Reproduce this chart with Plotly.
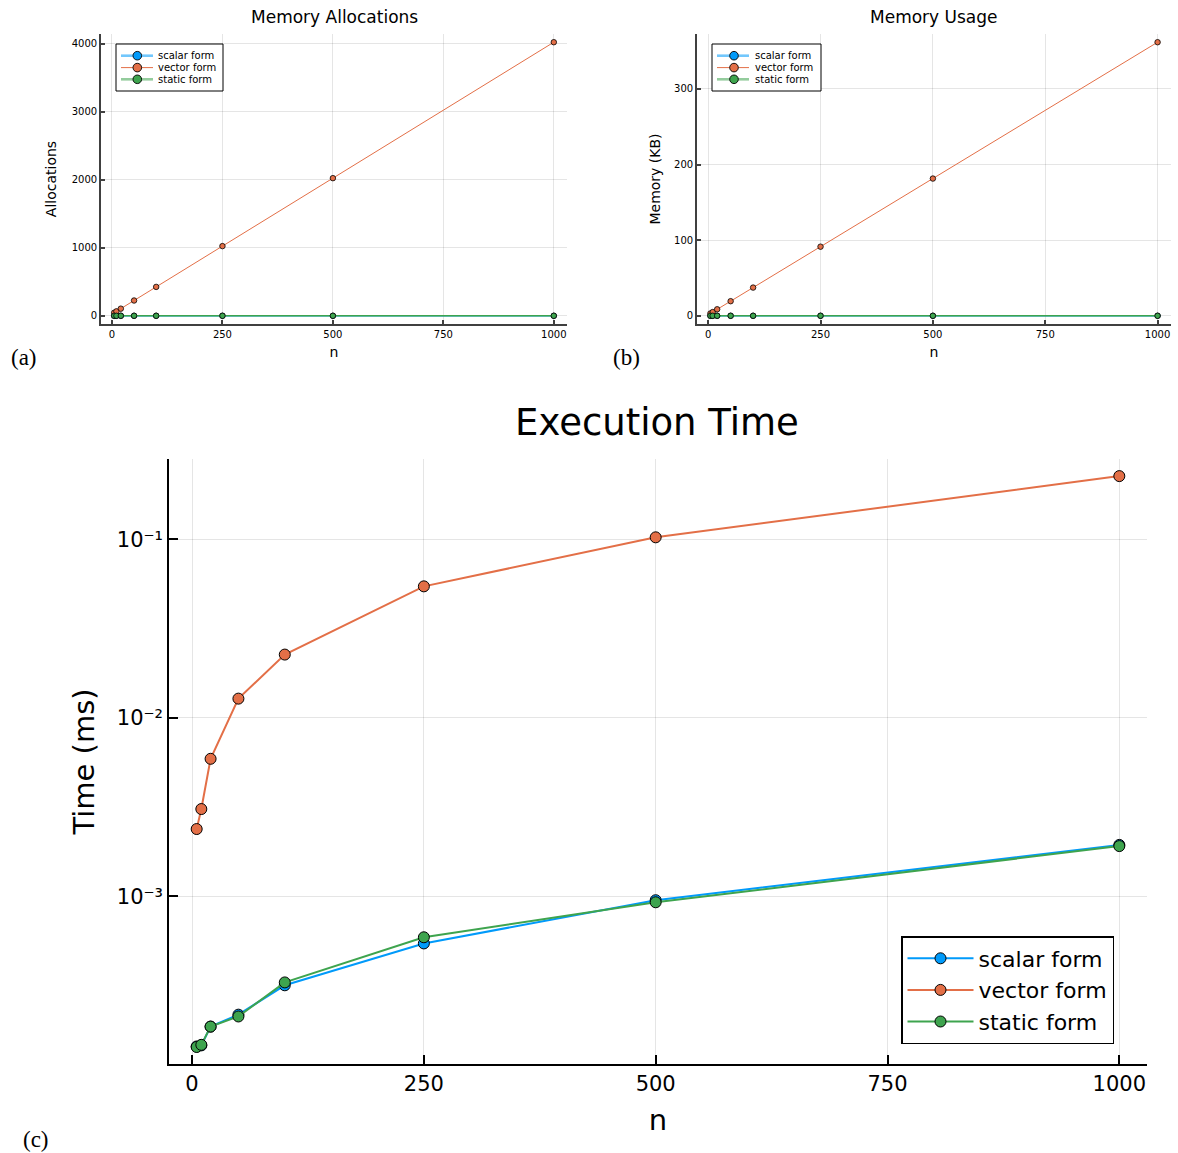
import plotly.graph_objects as go

# Problem sizes
n = [5, 10, 20, 50, 100, 250, 500, 1000]

# Memory allocations (count)
alloc_scalar = [0, 0, 0, 0, 0, 0, 0, 0]
alloc_vector = [45, 65, 105, 225, 425, 1025, 2025, 4025]
alloc_static = [0, 0, 0, 0, 0, 0, 0, 0]

# Memory usage (KB)
mem_scalar = [0, 0, 0, 0, 0, 0, 0, 0]
mem_vector = [3.1, 4.9, 8.6, 19.3, 37.3, 91.4, 181.5, 361.8]
mem_static = [0, 0, 0, 0, 0, 0, 0, 0]

# Execution time (ms)
time_scalar = [0.000144, 0.000146, 0.000186, 0.000217, 0.000317, 0.000544, 0.00095, 0.00194]
time_vector = [0.00238, 0.00308, 0.00589, 0.0128, 0.0226, 0.0545, 0.1026, 0.226]
time_static = [0.000143, 0.000147, 0.000186, 0.000212, 0.000329, 0.000589, 0.000925, 0.00191]

series_names = ["scalar form", "vector form", "static form"]
colors = ["#009AFA", "#E36F47", "#3EA44E"]
x_ticks = [0, 250, 500, 750, 1000]
alloc_ticks = [0, 1000, 2000, 3000, 4000]
mem_ticks = [0, 100, 200, 300]
log_tickvals = [1e-3, 1e-2, 1e-1]
log_ticktext = ["10\u207b\u00b3", "10\u207b\u00b2", "10\u207b\u00b9"]

W, H = 1178, 1153


def px_x(p):
    return p / W


def px_y(p):
    return 1 - p / H


fig = go.Figure()

top_lw = [1.5, 1.0, 1.5]
for i, (name, ys) in enumerate(zip(series_names, [alloc_scalar, alloc_vector, alloc_static])):
    fig.add_trace(go.Scatter(
        x=n, y=ys, name=name, mode="lines+markers", xaxis="x", yaxis="y", showlegend=False,
        line=dict(color=colors[i], width=top_lw[i]),
        marker=dict(color=colors[i], size=5.5, line=dict(color="black", width=0.8)),
    ))
for i, (name, ys) in enumerate(zip(series_names, [mem_scalar, mem_vector, mem_static])):
    fig.add_trace(go.Scatter(
        x=n, y=ys, name=name, mode="lines+markers", xaxis="x2", yaxis="y2", showlegend=False,
        line=dict(color=colors[i], width=top_lw[i]),
        marker=dict(color=colors[i], size=5.5, line=dict(color="black", width=0.8)),
    ))
for i, (name, ys) in enumerate(zip(series_names, [time_scalar, time_vector, time_static])):
    fig.add_trace(go.Scatter(
        x=n, y=ys, name=name, mode="lines+markers", xaxis="x3", yaxis="y3", legend="legend",
        line=dict(color=colors[i], width=2),
        marker=dict(color=colors[i], size=11, line=dict(color="black", width=1)),
    ))

grid = "rgba(0,0,0,0.1)"
x_range = [5 - 0.03 * 995, 1000 + 0.03 * 995]


def axis(domain, rng, tickvals, size, ticklen, lw, anchor, title, tsize, standoff,
         lc="black", **extra):
    d = dict(
        domain=domain, range=rng, tickvals=tickvals, anchor=anchor, automargin=False,
        showline=True, linecolor=lc, linewidth=lw, mirror=False,
        ticks="inside", ticklen=ticklen, tickcolor=lc, tickwidth=lw,
        showgrid=True, gridcolor=grid, gridwidth=1, zeroline=False,
        tickfont=dict(family="DejaVu Sans", size=size, color="black"),
        title=dict(text=title, standoff=standoff,
                   font=dict(family="DejaVu Sans", size=tsize, color="black")),
    )
    d.update(extra)
    return d


a_max = max(alloc_vector)
m_max = max(mem_vector)
top_lc = "#404040"

fig.update_layout(
    width=W, height=H, margin=dict(l=0, r=0, t=0, b=0),
    paper_bgcolor="white", plot_bgcolor="white",
    font=dict(family="DejaVu Sans", color="black"),
    showlegend=True,
    xaxis=axis([px_x(101), px_x(567)], x_range, x_ticks, 10, 4, 1.6, "y", "n", 14, 8, top_lc),
    yaxis=axis([px_y(324), px_y(34)], [-0.03 * a_max, 1.03 * a_max], alloc_ticks, 10, 4, 1.6, "x",
               "Allocations", 14, 12, top_lc),
    xaxis2=axis([px_x(697), px_x(1171)], x_range, x_ticks, 10, 4, 1.6, "y2", "n", 14, 8, top_lc),
    yaxis2=axis([px_y(324), px_y(34)], [-0.03 * m_max, 1.03 * m_max], mem_ticks, 10, 4, 1.6, "x2",
                "Memory (KB)", 14, 10, top_lc),
    xaxis3=axis([px_x(169), px_x(1147)], x_range, x_ticks, 21, 9, 1.5, "y3", "n", 29, 15),
    yaxis3=axis([px_y(1064), px_y(459)], [-3.94, -0.55], log_tickvals, 21, 9, 1.5, "x3",
                "Time (ms)", 29, 14, type="log", ticktext=log_ticktext),
    legend=dict(
        x=px_x(1114), y=px_y(1044), xanchor="right", yanchor="bottom",
        bgcolor="white", bordercolor="black", borderwidth=1.5,
        font=dict(family="DejaVu Sans", size=22, color="black"),
        itemwidth=66, tracegroupgap=0,
    ),
)

# Compact legend boxes for the two small panels
legend_lw = [2.6, 1.0, 2.6]
legend_alpha = [0.55, 1.0, 0.55]


def small_legend(box, line_x, marker_x, text_x, rows):
    x0, y0, x1, y1 = box
    fig.add_shape(type="rect", xref="paper", yref="paper",
                  x0=px_x(x0), x1=px_x(x1), y0=px_y(y1), y1=px_y(y0),
                  line=dict(color="black", width=1), fillcolor="white", layer="above")
    r = 4.3
    for i, name in enumerate(series_names):
        yc = rows[i]
        fig.add_shape(type="line", xref="paper", yref="paper",
                      x0=px_x(line_x[0]), x1=px_x(line_x[1]), y0=px_y(yc), y1=px_y(yc),
                      line=dict(color=colors[i], width=legend_lw[i]), opacity=legend_alpha[i],
                      layer="above")
        fig.add_shape(type="circle", xref="paper", yref="paper",
                      x0=px_x(marker_x - r), x1=px_x(marker_x + r),
                      y0=px_y(yc + r), y1=px_y(yc - r),
                      line=dict(color="black", width=0.9), fillcolor=colors[i], layer="above")
        fig.add_annotation(text=name, x=px_x(text_x), y=px_y(yc), xref="paper", yref="paper",
                           xanchor="left", yanchor="middle", showarrow=False,
                           font=dict(family="DejaVu Sans", size=10, color="black"))


small_legend((116, 44, 223, 91), (121, 153), 137.3, 156, [55.7, 67.6, 79.3])
small_legend((712, 44, 821, 91), (717, 749), 734, 753, [55.7, 67.6, 79.3])

# Panel titles and tags
texts = [
    ("Memory Allocations", 334, 17, 17, "DejaVu Sans"),
    ("Memory Usage", 934, 17, 17, "DejaVu Sans"),
    ("Execution Time", 657, 423, 37, "DejaVu Sans"),
    ("(a)", 24, 357, 23, "Liberation Serif"),
    ("(b)", 626, 357, 23, "Liberation Serif"),
    ("(c)", 36, 1139, 23, "Liberation Serif"),
]
for txt, x, y, size, fam in texts:
    fig.add_annotation(
        text=txt, x=px_x(x), y=px_y(y), xref="paper", yref="paper",
        xanchor="center", yanchor="middle", showarrow=False,
        font=dict(family=fam, size=size, color="black"),
    )

fig.write_html("out.html")
